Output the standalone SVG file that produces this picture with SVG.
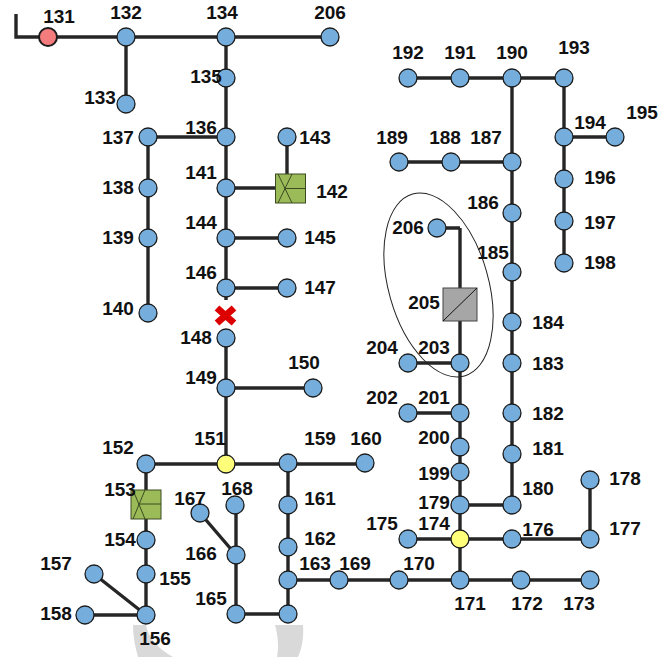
<svg xmlns="http://www.w3.org/2000/svg" width="668" height="657" viewBox="0 0 668 657">
<style>
.w{fill:none;stroke:#262626;stroke-width:3.4}
.n{fill:#75aedd;stroke:#1c1c1c;stroke-width:1.3}
.y{fill:#ffff7a;stroke:#1c1c1c;stroke-width:1.3}
.b{stroke:#3c4a22;stroke-width:1}
text{font-family:"Liberation Sans",Arial,sans-serif;font-weight:700;font-size:19px;fill:#111;text-anchor:middle}
</style>
<rect width="668" height="657" fill="#fff"/>
<g id="arcs" fill="#d9d9d9">
<path d="M133 625H146C148 637 158 649 173 657H138C135 647 133 636 133 625Z"/>
<path d="M275 625H303C304 637 302 648 298 657H277C279 647 278 636 275 625Z"/>
</g>
<g id="connectors" class="w">
<path class="w" d="M16 14V37H330M126 37V104M226 37V288M148 137H226M148 137V313M226 188H276M287 137V174M226 238H287M226 288H287M226 288V300"/>
<path class="w" d="M226 338V464M226 388H313M146 464H365M146 464V615M94 574L146 615M85 615H146M200 513L236 555M236 505V614M236 614H288M288 463V614M288 580H590M460 539V580M408 539H590M590 480V539"/>
<path class="w" d="M460 505V539M460 505H512M512 78V505M408 78H564M564 78V263M564 137H615M399 162H512M460 228V288M437 228H460M460 321V505M408 363H460M408 413H460"/>
</g>
<g id="ellipse"><ellipse cx="438.5" cy="285" rx="49.9" ry="94.6" transform="rotate(-15.9 438.5 285)" fill="none" stroke="#222" stroke-width="1"/></g>
<g id="n131"><circle class="n" style="fill:#f47c7c;stroke-width:2" cx="48" cy="37" r="9"/><text x="59" y="23">131</text></g>
<g id="n132"><circle class="n" cx="126" cy="37" r="9"/><text x="126" y="19">132</text></g>
<g id="n133"><circle class="n" cx="126" cy="104" r="9"/><text x="100" y="104">133</text></g>
<g id="n134"><circle class="n" cx="226" cy="37" r="9"/><text x="222" y="19">134</text></g>
<g id="n135"><circle class="n" cx="226" cy="78" r="9"/><text x="206" y="83">135</text></g>
<g id="n136"><circle class="n" cx="226" cy="137" r="9"/><text x="201" y="134">136</text></g>
<g id="n137"><circle class="n" cx="148" cy="137" r="9"/><text x="118" y="144">137</text></g>
<g id="n138"><circle class="n" cx="148" cy="188" r="9"/><text x="118" y="194">138</text></g>
<g id="n139"><circle class="n" cx="148" cy="238" r="9"/><text x="118" y="244">139</text></g>
<g id="n140"><circle class="n" cx="148" cy="313" r="9"/><text x="118" y="315">140</text></g>
<g id="n141"><circle class="n" cx="226" cy="188" r="9"/><text x="201" y="179">141</text></g>
<g id="n142"><rect x="275.500" y="174" width="30" height="29" fill="#9bbb59" class="b"/><path class="b" fill="none" d="M278 174L292 203M292 174L278 203M285 188.500H305.500"/><text x="332" y="198">142</text></g>
<g id="n143"><circle class="n" cx="287" cy="137" r="9"/><text x="315" y="144">143</text></g>
<g id="n144"><circle class="n" cx="226" cy="238" r="9"/><text x="201" y="229">144</text></g>
<g id="n145"><circle class="n" cx="287" cy="238" r="9"/><text x="320" y="244">145</text></g>
<g id="n146"><circle class="n" cx="226" cy="288" r="9"/><text x="201" y="279">146</text></g>
<g id="n147"><circle class="n" cx="287" cy="288" r="9"/><text x="320" y="294">147</text></g>
<g id="fault"><path d="M217 308L234 323M234 308L217 323" stroke="#dc0000" stroke-width="7" fill="none"/></g>
<g id="n148"><circle class="n" cx="226" cy="338" r="9"/><text x="196" y="344">148</text></g>
<g id="n149"><circle class="n" cx="226" cy="388" r="9"/><text x="201" y="384">149</text></g>
<g id="n150"><circle class="n" cx="313" cy="388" r="9"/><text x="304" y="369">150</text></g>
<g id="n151"><circle class="y" cx="226" cy="464" r="9"/><text x="210" y="445">151</text></g>
<g id="n152"><circle class="n" cx="146" cy="464" r="9"/><text x="118" y="454">152</text></g>
<g id="n153"><rect x="131" y="490" width="30" height="29" fill="#9bbb59" class="b"/><path class="b" fill="none" d="M133 490L145 519M145 490L133 519M138 504H161"/><text x="120" y="496">153</text></g>
<g id="n154"><circle class="n" cx="146" cy="540" r="9"/><text x="120" y="546">154</text></g>
<g id="n155"><circle class="n" cx="146" cy="574" r="9"/><text x="175" y="585">155</text></g>
<g id="n156"><circle class="n" cx="146" cy="615" r="9"/><text x="155" y="645">156</text></g>
<g id="n157"><circle class="n" cx="94" cy="574" r="9"/><text x="56" y="570">157</text></g>
<g id="n158"><circle class="n" cx="85" cy="615" r="9"/><text x="56" y="620">158</text></g>
<g id="n159"><circle class="n" cx="288" cy="463" r="9"/><text x="320" y="445">159</text></g>
<g id="n160"><circle class="n" cx="365" cy="463" r="9"/><text x="366" y="445">160</text></g>
<g id="n161"><circle class="n" cx="288" cy="505" r="9"/><text x="320" y="505">161</text></g>
<g id="n162"><circle class="n" cx="288" cy="547" r="9"/><text x="320" y="545">162</text></g>
<g id="n163"><circle class="n" cx="288" cy="580" r="9"/><text x="315" y="570">163</text></g>
<g id="n164"><circle class="n" cx="288" cy="614" r="9"/></g>
<g id="n165"><circle class="n" cx="236" cy="614" r="9"/><text x="211" y="605">165</text></g>
<g id="n166"><circle class="n" cx="236" cy="555" r="9"/><text x="201" y="560">166</text></g>
<g id="n167"><circle class="n" cx="200" cy="513" r="9"/><text x="190" y="505">167</text></g>
<g id="n168"><circle class="n" cx="235" cy="505" r="9"/><text x="237" y="495">168</text></g>
<g id="n169"><circle class="n" cx="339" cy="580" r="9"/><text x="355" y="570">169</text></g>
<g id="n170"><circle class="n" cx="399" cy="580" r="9"/><text x="419" y="570">170</text></g>
<g id="n171"><circle class="n" cx="460" cy="580" r="9"/><text x="470" y="610">171</text></g>
<g id="n172"><circle class="n" cx="521" cy="580" r="9"/><text x="527" y="610">172</text></g>
<g id="n173"><circle class="n" cx="590" cy="580" r="9"/><text x="579" y="610">173</text></g>
<g id="n174"><circle class="y" cx="460" cy="539" r="9"/><text x="434" y="530">174</text></g>
<g id="n175"><circle class="n" cx="408" cy="539" r="9"/><text x="382" y="530">175</text></g>
<g id="n176"><circle class="n" cx="512" cy="539" r="9"/><text x="538" y="536">176</text></g>
<g id="n177"><circle class="n" cx="590" cy="539" r="9"/><text x="625" y="535">177</text></g>
<g id="n178"><circle class="n" cx="590" cy="480" r="9"/><text x="625" y="485">178</text></g>
<g id="n179"><circle class="n" cx="460" cy="505" r="9"/><text x="434" y="509">179</text></g>
<g id="n180"><circle class="n" cx="512" cy="505" r="9"/><text x="538" y="495">180</text></g>
<g id="n181"><circle class="n" cx="512" cy="454" r="9"/><text x="548" y="455">181</text></g>
<g id="n182"><circle class="n" cx="512" cy="413" r="9"/><text x="548" y="420">182</text></g>
<g id="n183"><circle class="n" cx="512" cy="363" r="9"/><text x="548" y="370">183</text></g>
<g id="n184"><circle class="n" cx="512" cy="322" r="9"/><text x="548" y="329">184</text></g>
<g id="n185"><circle class="n" cx="512" cy="272" r="9"/><text x="493" y="259">185</text></g>
<g id="n186"><circle class="n" cx="512" cy="213" r="9"/><text x="483" y="209">186</text></g>
<g id="n187"><circle class="n" cx="512" cy="162" r="9"/><text x="486" y="144">187</text></g>
<g id="n188"><circle class="n" cx="451" cy="162" r="9"/><text x="445" y="144">188</text></g>
<g id="n189"><circle class="n" cx="399" cy="162" r="9"/><text x="392" y="144">189</text></g>
<g id="n190"><circle class="n" cx="512" cy="78" r="9"/><text x="512" y="59">190</text></g>
<g id="n191"><circle class="n" cx="460" cy="78" r="9"/><text x="460" y="59">191</text></g>
<g id="n192"><circle class="n" cx="408" cy="78" r="9"/><text x="408" y="59">192</text></g>
<g id="n193"><circle class="n" cx="564" cy="78" r="9"/><text x="574" y="54">193</text></g>
<g id="n194"><circle class="n" cx="564" cy="137" r="9"/><text x="590" y="129">194</text></g>
<g id="n195"><circle class="n" cx="615" cy="137" r="9"/><text x="642" y="119">195</text></g>
<g id="n196"><circle class="n" cx="564" cy="179" r="9"/><text x="600" y="184">196</text></g>
<g id="n197"><circle class="n" cx="564" cy="221" r="9"/><text x="600" y="229">197</text></g>
<g id="n198"><circle class="n" cx="564" cy="263" r="9"/><text x="600" y="269">198</text></g>
<g id="n199"><circle class="n" cx="460" cy="472" r="9"/><text x="434" y="480">199</text></g>
<g id="n200"><circle class="n" cx="460" cy="447" r="9"/><text x="434" y="444">200</text></g>
<g id="n201"><circle class="n" cx="460" cy="413" r="9"/><text x="434" y="404">201</text></g>
<g id="n202"><circle class="n" cx="408" cy="413" r="9"/><text x="382" y="404">202</text></g>
<g id="n203"><circle class="n" cx="460" cy="363" r="9"/><text x="434" y="354">203</text></g>
<g id="n204"><circle class="n" cx="408" cy="363" r="9"/><text x="382" y="354">204</text></g>
<g id="n205"><rect x="443" y="288" width="34" height="33" fill="#a6a6a6" stroke="#444" stroke-width="1"/><path d="M443 321L477 288" stroke="#111" stroke-width="1" fill="none"/><text x="424" y="309">205</text></g>
<g id="n206b"><circle class="n" cx="437" cy="228" r="9"/><text x="408" y="234">206</text></g>
<g id="n206a"><circle class="n" cx="330" cy="37" r="9"/><text x="330" y="19">206</text></g>
</svg>
